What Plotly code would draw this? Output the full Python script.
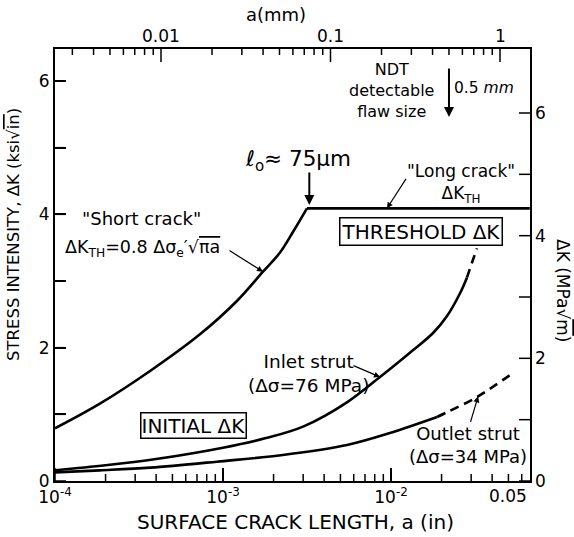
import numpy as np
import plotly.graph_objects as go

# ---------------- data ----------------
# crack length a in inches, stress intensity range in ksi*sqrt(in)
short_a = [1.0e-4, 1.85e-4, 3.68e-4, 7.29e-4, 1.21e-3, 1.73e-3, 2.19e-3, 2.63e-3, 3.16e-3]
short_dk = [0.79, 1.16, 1.65, 2.20, 2.70, 3.14, 3.43, 3.75, 4.09]

long_a = [3.16e-3, 0.067]
long_dk = [4.09, 4.09]

inlet_a = [1.0e-4, 2.0e-4, 4.0e-4, 1.0e-3, 1.78e-3, 3.02e-3, 5.47e-3,
           8.6e-3, 1.0e-2, 1.35e-2, 1.78e-2, 2.15e-2, 2.58e-2, 2.83e-2]
inlet_dk = [0.16, 0.235, 0.33, 0.50, 0.64, 0.82, 1.18, 1.56, 1.69, 1.96,
            2.22, 2.47, 2.82, 3.05]
inlet_ext_a = [0.0283, 0.0303, 0.0325]
inlet_ext_dk = [3.05, 3.27, 3.49]

outlet_a = [1.0e-4, 1.85e-4, 3.68e-4, 9.2e-4, 2.27e-3, 5.47e-3, 9.86e-3, 0.0188]
outlet_dk = [0.13, 0.16, 0.20, 0.29, 0.39, 0.54, 0.72, 0.96]
outlet_ext_a = [0.0188, 0.0215, 0.0325, 0.0532]
outlet_ext_dk = [0.96, 1.03, 1.26, 1.62]

# tick definitions
bottom_major = [1e-4, 1e-3, 1e-2]
bottom_major_text = ["10<sup>-4</sup>", "10<sup>-3</sup>", "10<sup>-2</sup>"]
bottom_minor = [m * 10.0 ** e for e in (-4, -3) for m in range(2, 10)] + [0.02, 0.03, 0.04, 0.05, 0.06]
bottom_extra_label = 0.05
top_major = [0.01, 0.1, 1]            # a in mm
top_major_text = ["0.01", "0.1", "1"]
top_minor = [m * 10.0 ** e for e in (-3, -2, -1) for m in range(2, 10) if m * 10.0 ** e > 0.0025]
left_ticks = [0, 1, 2, 3, 4, 5, 6]    # ksi*sqrt(in)
left_text = ["0", "", "2", "", "4", "", "6"]
right_ticks = [0, 1, 2, 3, 4, 5, 6]   # MPa*sqrt(m)
right_text = ["0", "", "2", "", "4", "", "6"]

l0_mm = 0.075       # ell_0 ~ 75 micrometres
ndt_mm = 0.5        # NDT detectable flaw size

# ---------------- scales ----------------
W, H = 574, 537
L, R, T, B = 55, 44, 49, 56
PW, PH = W - L - R, H - T - B
FONT = "DejaVu Sans"

PX_DEC_BOTTOM = 168.0                      # px per decade (inches)
xr = [-4, -4 + PW / PX_DEC_BOTTOM]
yr = [0, PH / (400 / 6)]
PX_Y = PH / yr[1]
# top (mm) scale as drawn in the reference: 0.01 mm at 106 px from the left, 169.5 px per decade
TOP_PX_AT_001, TOP_PX_DEC = 106.0, 169.5
# right (MPa sqrt m) scale: 6 units over 368 px
RIGHT_PX_PER_UNIT = 368 / 6


def mm_to_x(mm):
    """Position of a top-axis value, expressed on the bottom (inch) log scale."""
    px = TOP_PX_AT_001 + (np.log10(mm) + 2) * TOP_PX_DEC
    return 10 ** (xr[0] + px / PX_DEC_BOTTOM)


def mpa_to_y(v):
    return v * RIGHT_PX_PER_UNIT / PX_Y


def pp(px, py):
    return (px - L) / PW, (H - B - py) / PH


fig = go.Figure()
lw = 2.6
solid = dict(color="black", width=lw, shape="spline", smoothing=1.0)
dashed = dict(color="black", width=lw, dash="9px,6px", shape="spline", smoothing=1.0)
fig.add_trace(go.Scatter(x=short_a, y=short_dk, mode="lines", line=solid))
fig.add_trace(go.Scatter(x=long_a, y=long_dk, mode="lines", line=dict(color="black", width=lw)))
fig.add_trace(go.Scatter(x=inlet_a, y=inlet_dk, mode="lines", line=solid))
fig.add_trace(go.Scatter(x=inlet_ext_a, y=inlet_ext_dk, mode="lines", line=dashed))
fig.add_trace(go.Scatter(x=outlet_a, y=outlet_dk, mode="lines", line=solid))
fig.add_trace(go.Scatter(x=outlet_ext_a, y=outlet_ext_dk, mode="lines", line=dashed))


# ---- inward tick marks built from the tick arrays ----
def vticks(xvals, y0, length_px):
    xs, ys = [], []
    for v in xvals:
        xs += [v, v, None]
        ys += [y0, y0 + length_px / PX_Y, None]
    return xs, ys


def hticks(yvals, logx0, length_px):
    xs, ys = [], []
    for v in yvals:
        xs += [10 ** logx0, 10 ** (logx0 + length_px / PX_DEC_BOTTOM), None]
        ys += [v, v, None]
    return xs, ys


tick_sets = [
    vticks(bottom_major, 0, 13),
    vticks(bottom_minor, 0, 7),
    vticks([mm_to_x(v) for v in top_major], yr[1], -13),
    vticks([mm_to_x(v) for v in top_minor], yr[1], -6),
    hticks(left_ticks, xr[0], 11),
    hticks([mpa_to_y(v) for v in right_ticks], xr[1], -11),
]
for xs, ys in tick_sets:
    fig.add_trace(go.Scatter(x=xs, y=ys, mode="lines", line=dict(color="black", width=1.5),
                             hoverinfo="skip"))

axis_font = dict(family=FONT, size=17, color="black")
fig.update_layout(
    width=W, height=H, margin=dict(l=L, r=R, t=T, b=B),
    paper_bgcolor="white", plot_bgcolor="white", showlegend=False,
    xaxis=dict(type="log", range=xr, showgrid=False, zeroline=False, showline=True, mirror=True,
               linecolor="black", linewidth=2, ticks="inside", ticklen=13, tickwidth=1.5, tickcolor="black",
               tickmode="array", tickvals=bottom_major, ticktext=bottom_major_text, tickfont=axis_font),
    yaxis=dict(range=yr, showgrid=False, zeroline=False, showline=True, mirror=True,
               linecolor="black", linewidth=2, ticks="inside", ticklen=11, tickwidth=1.5, tickcolor="black",
               tickmode="array", tickvals=left_ticks, ticktext=left_text, tickfont=axis_font),
)

OL = "<span style='text-decoration:overline'>"
ann = []


def text(px, py, s, size=16, **kw):
    x, y = pp(px, py)
    d = dict(x=x, y=y, xref="paper", yref="paper", text=s, showarrow=False,
             font=dict(family=FONT, size=size, color="black"), xanchor="center", yanchor="middle")
    d.update(kw)
    ann.append(d)


# top-axis and right-axis tick labels, placed through the scales
for v, s in zip(top_major, top_major_text):
    ann.append(dict(x=np.log10(mm_to_x(v)), y=1, xref="x", yref="paper", text=s, showarrow=False,
                    xanchor="center", yanchor="bottom", yshift=1, font=axis_font))
for v, s in zip(right_ticks, right_text):
    if s:
        ann.append(dict(x=1, y=mpa_to_y(v), xref="paper", yref="y", text=s, showarrow=False,
                        xanchor="left", yanchor="middle", xshift=3, font=axis_font))
ann.append(dict(x=np.log10(bottom_extra_label), y=0, xref="x", yref="paper", text="0.05", showarrow=False,
                xanchor="center", yanchor="top", yshift=-3, font=axis_font))

# axis titles
text(295, 522, "SURFACE CRACK LENGTH, a (in)", size=20)
text(13, 235, "STRESS INTENSITY, ΔK (ksi√" + OL + "in</span>)", size=16.5, textangle=-90)
text(563, 290, "ΔK (MPa√" + OL + "m</span>)", size=17, textangle=90)
text(276, 15, "a(mm)", size=18)

# in-plot labels
text(141, 218, "\"Short crack\"", size=18)
text(142, 248, "ΔK<sub>TH</sub>=0.8 Δσ<sub>e</sub>′√" + OL + "πa</span>", size=17.5)
text(298, 160, "ℓ<sub>o</sub>≈ 75μm", size=21.5)
text(461, 183, "\"Long crack\"<br>ΔK<sub>TH</sub>", size=17)
text(421, 231, "THRESHOLD ΔK", size=20, bordercolor="black", borderwidth=1.5, borderpad=1, bgcolor="white")
text(193, 425, "INITIAL ΔK", size=20, bordercolor="black", borderwidth=1.5, borderpad=0, bgcolor="white")
text(308, 373, "Inlet strut<br>(Δσ=76 MPa)", size=18.5)
text(468, 445, "Outlet strut<br>(Δσ=34 MPa)", size=18)
text(391, 90, "NDT<br>detectable<br>flaw size", size=16)
text(484, 88, "0.5 <i>mm</i>", size=15.5)


def arrow(x, y, ax, ay, width=1.2):
    ann.append(dict(x=x, y=y, xref="x", yref="y", ax=ax, ay=ay, axref="pixel", ayref="pixel",
                    text="", showarrow=True, arrowhead=2, arrowsize=1.0, arrowwidth=width,
                    arrowcolor="black"))


arrow(np.log10(short_a[5]), short_dk[5], -35, -22)
arrow(np.log10(mm_to_x(l0_mm)), 4.14, 0, -34, width=2)
arrow(-2.024, long_dk[0], 20, -31)
arrow(np.log10(inlet_a[7]), inlet_dk[7], -28, -12)
arrow(np.log10(0.033), 1.27, -8, 27)
arrow(np.log10(mm_to_x(ndt_mm)), 5.46, 0, -50, width=2)

fig.update_layout(annotations=ann)
fig.write_html("out.html")
